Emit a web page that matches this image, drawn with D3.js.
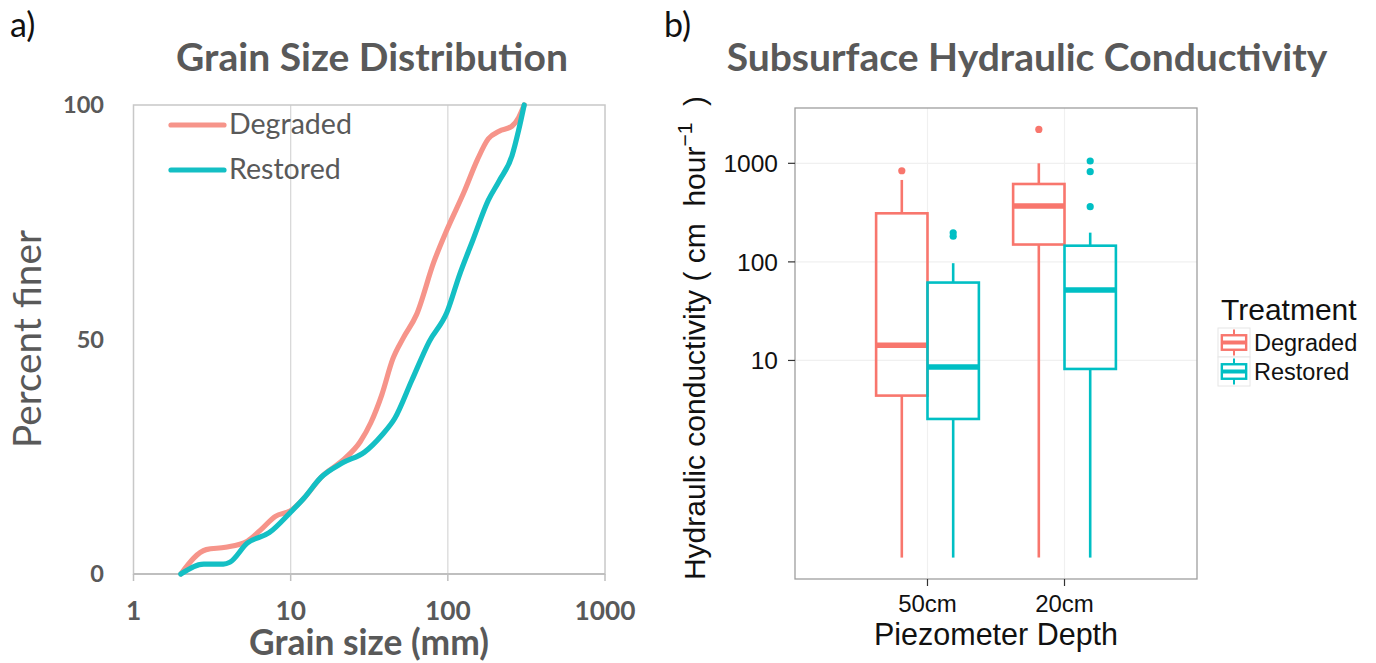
<!DOCTYPE html>
<html><head><meta charset="utf-8">
<script src="https://cdn.jsdelivr.net/npm/d3@7"></script>
<style>body{margin:0;background:#fff}svg{display:block}</style>
</head><body>
<svg id="c" width="1376" height="663"></svg>
<script>
// ---------- Panel a data: grain size distribution ----------
const grainSizeDegraded = [2,2.9,3.85,5.3,6.4,8.0,10,12.1,15.6,21.4,27.7,32.4,38,44.6,52.2,63.2,81.6,98.7,127,154,181,212,256,282,306];
const pctDegraded      = [0,5.2,5.7,7.0,9.3,12.3,13.5,16.1,20.6,24.2,28.2,32.3,38.2,45.8,50.4,55.3,66.6,73.4,81.5,88.3,92.8,94.4,95.5,97.3,100];
const grainSizeRestored = [2,2.8,3.73,4.1,5.3,7.3,10,12.1,15.6,21.4,29.5,38,46,59,76,98.7,119,144,181,212,256,282,306];
const pctRestored      = [0,2.1,2.1,2.5,6.6,8.8,13.2,16.1,20.6,23.7,26.0,29.6,33.2,41.3,49.5,55.8,63.9,71.1,79.7,83.8,89.2,94.6,100];
const grainTicks = [1,10,100,1000];
const pctTicks = [0,50,100];
const seriesNames = ["Degraded","Restored"];

// ---------- Panel b data: hydraulic conductivity boxplots ----------
const depths = ["50cm","20cm"];
const treatments = ["Degraded","Restored"];
// [depth][treatment]
const whiskerLow  = [[0.1,0.1],[0.1,0.1]];
const q1          = [[4.4,2.55],[150,8.2]];
const medians     = [[14.3,8.6],[369,52]];
const q3          = [[311,61.7],[617,146]];
const whiskerHigh = [[678,97],[1000,198]];
const outliers    = [[[841],[197,182]],[[2208],[1055,822,363]]];
const condTicks = [10,100,1000];

const svg = d3.select("#c");
const XL = "Lato, 'Open Sans', sans-serif";
const GG = "'Liberation Sans', Arial, sans-serif";
const grey = "#595959";
const colA = {Degraded:"#F6948A", Restored:"#14BFC4"};
const colB = {Degraded:"#F8766D", Restored:"#00BFC4"};

function fit(sel, w){
  const fs = parseFloat(sel.attr("font-size"));
  const m = sel.node().getComputedTextLength();
  const nf = fs*w/m;
  sel.attr("font-size", nf);
  return nf;
}

// ================= Panel a =================
const A = {l:133.5, r:605, t:105, b:574};
const xa = d3.scaleLog().domain([1,1000]).range([A.l, A.r]);
const ya = d3.scaleLinear().domain([0,100]).range([A.b, A.t]);

const ga = svg.append("g");
ga.selectAll("line.grid").data(grainTicks.slice(1,-1)).join("line")
  .attr("x1", d=>xa(d)).attr("x2", d=>xa(d)).attr("y1", A.t).attr("y2", A.b)
  .attr("stroke","#D9D9D9").attr("stroke-width",1.3);
ga.append("rect").attr("x",A.l).attr("y",A.t).attr("width",A.r-A.l).attr("height",A.b-A.t)
  .attr("fill","none").attr("stroke","#C8C8C8").attr("stroke-width",1.5);
ga.append("line").attr("x1",A.l).attr("x2",A.r).attr("y1",A.b).attr("y2",A.b)
  .attr("stroke","#BFBFBF").attr("stroke-width",1.8);
ga.selectAll("line.tk").data(grainTicks).join("line")
  .attr("x1", d=>xa(d)).attr("x2", d=>xa(d)).attr("y1", A.b).attr("y2", A.b+7)
  .attr("stroke","#BFBFBF").attr("stroke-width",1.5);
const xl = ga.selectAll("text.xt").data(grainTicks).join("text")
  .attr("x", d=>xa(d)).attr("y", 620).attr("text-anchor","middle")
  .attr("font-family",XL).attr("font-weight","bold").attr("font-size",26).attr("fill",grey)
  .text(d=>d);
{ const big = xl.filter(d=>d===1000); const fs = fit(big, 61); xl.attr("font-size", fs); }
const yl = ga.selectAll("text.yt").data(pctTicks).join("text")
  .attr("x", 104).attr("y", d=>ya(d)).attr("dy","0.35em").attr("text-anchor","end")
  .attr("font-family",XL).attr("font-weight","bold").attr("font-size",24).attr("fill",grey)
  .text(d=>d);
{ const big = yl.filter(d=>d===100); const fs = fit(big, 41); yl.attr("font-size", fs); }

const lineA = d3.line().x(d=>xa(d[0])).y(d=>ya(d[1])).curve(d3.curveMonotoneX);
const seriesA = [
  {name:"Degraded", pts:d3.zip(grainSizeDegraded, pctDegraded)},
  {name:"Restored", pts:d3.zip(grainSizeRestored, pctRestored)}
];
ga.selectAll("path.s").data(seriesA).join("path")
  .attr("d", d=>lineA(d.pts)).attr("fill","none")
  .attr("stroke", d=>colA[d.name]).attr("stroke-width",5.2)
  .attr("stroke-linecap","round").attr("stroke-linejoin","round");

const legA = ga.selectAll("g.leg").data(seriesNames).join("g")
  .attr("transform",(d,i)=>`translate(0,${125+i*45})`);
legA.append("line").attr("x1",171).attr("x2",224).attr("y1",0).attr("y2",0)
  .attr("stroke",d=>colA[d]).attr("stroke-width",5.2).attr("stroke-linecap","round");
const legAT = legA.append("text").attr("x",229).attr("y",9)
  .attr("font-family",XL).attr("font-size",26).attr("fill",grey).text(d=>d);
{ const fs = fit(legAT.filter(d=>d==="Degraded"), 123); legAT.attr("font-size", fs); }

fit(ga.append("text").attr("x",372).attr("y",71).attr("text-anchor","middle")
  .attr("font-family",XL).attr("font-weight","bold").attr("font-size",32).attr("fill",grey)
  .text("Grain Size Distribution"), 392);
fit(ga.append("text").attr("x",369).attr("y",655).attr("text-anchor","middle")
  .attr("font-family",XL).attr("font-weight","bold").attr("font-size",28).attr("fill",grey)
  .text("Grain size (mm)"), 240);
fit(ga.append("text").attr("transform","translate(41,339) rotate(-90)").attr("text-anchor","middle")
  .attr("font-family",XL).attr("font-size",34).attr("fill",grey)
  .text("Percent finer"), 218);
svg.append("text").attr("x",10).attr("y",37)
  .attr("font-family",XL).attr("font-size",34).attr("fill","#111").text("a)");

// ================= Panel b =================
const B = {l:795, r:1197, t:108, b:579};
const lo = Math.log10(d3.min(whiskerLow.flat()));
const hi = Math.log10(d3.max(outliers.flat(2)));
const pad = (hi-lo)*0.05;
const yb = d3.scaleLog().domain([10**(lo-pad), 10**(hi+pad)]).range([B.b, B.t]);
const xb = d3.scalePoint().domain(depths).range([B.l, B.r]).padding(0.967);
const dodge = d3.scaleBand().domain(treatments).range([-0.375*xb.step(), 0.375*xb.step()]);
const bw = dodge.bandwidth();

const gb = svg.append("g");
gb.append("rect").attr("x",B.l).attr("y",B.t).attr("width",B.r-B.l).attr("height",B.b-B.t)
  .attr("fill","#fff");
gb.selectAll("line.hg").data(condTicks).join("line")
  .attr("x1",B.l).attr("x2",B.r).attr("y1",d=>yb(d)).attr("y2",d=>yb(d))
  .attr("stroke","#F0F0F0").attr("stroke-width",1.2);
gb.selectAll("line.vg").data(depths).join("line")
  .attr("x1",d=>xb(d)).attr("x2",d=>xb(d)).attr("y1",B.t).attr("y2",B.b)
  .attr("stroke","#F0F0F0").attr("stroke-width",1.2);

const boxes = [];
depths.forEach((dp,i)=>treatments.forEach((tr,j)=>boxes.push({
  dp, tr, lo:whiskerLow[i][j], q1:q1[i][j], med:medians[i][j], q3:q3[i][j], hi:whiskerHigh[i][j], out:outliers[i][j]
})));
const bx = d => xb(d.dp) + dodge(d.tr);
const cx = d => bx(d) + bw/2;
const gbox = gb.selectAll("g.box").data(boxes).join("g");
gbox.append("line").attr("x1",cx).attr("x2",cx).attr("y1",d=>yb(d.q3)).attr("y2",d=>yb(d.hi))
  .attr("stroke",d=>colB[d.tr]).attr("stroke-width",2.6);
gbox.append("line").attr("x1",cx).attr("x2",cx).attr("y1",d=>yb(d.q1)).attr("y2",d=>yb(d.lo))
  .attr("stroke",d=>colB[d.tr]).attr("stroke-width",2.6);
gbox.append("rect").attr("x",bx).attr("width",bw).attr("y",d=>yb(d.q3)).attr("height",d=>yb(d.q1)-yb(d.q3))
  .attr("fill","#fff").attr("fill-opacity",0).attr("stroke",d=>colB[d.tr]).attr("stroke-width",2.6);
gbox.append("line").attr("x1",bx).attr("x2",d=>bx(d)+bw).attr("y1",d=>yb(d.med)).attr("y2",d=>yb(d.med))
  .attr("stroke",d=>colB[d.tr]).attr("stroke-width",5.5);
gbox.selectAll("circle").data(d=>d.out.map(v=>({v, d}))).join("circle")
  .attr("cx",o=>cx(o.d)).attr("cy",o=>yb(o.v)).attr("r",3.6).attr("fill",o=>colB[o.d.tr]);

gb.append("rect").attr("x",B.l).attr("y",B.t).attr("width",B.r-B.l).attr("height",B.b-B.t)
  .attr("fill","none").attr("stroke","#9E9E9E").attr("stroke-width",1.3);

gb.selectAll("line.ytk").data(condTicks).join("line")
  .attr("x1",B.l-7).attr("x2",B.l).attr("y1",d=>yb(d)).attr("y2",d=>yb(d))
  .attr("stroke","#333").attr("stroke-width",1.2);
gb.selectAll("text.ytl").data(condTicks).join("text")
  .attr("x",B.l-17).attr("y",d=>yb(d)).attr("dy","0.36em").attr("text-anchor","end")
  .attr("font-family",GG).attr("font-size",24.5).attr("fill","#111").text(d=>d);
gb.selectAll("line.xtk").data(depths).join("line")
  .attr("x1",d=>xb(d)).attr("x2",d=>xb(d)).attr("y1",B.b).attr("y2",B.b+7)
  .attr("stroke","#333").attr("stroke-width",1.2);
gb.selectAll("text.xtl").data(depths).join("text")
  .attr("x",d=>xb(d)).attr("y",612).attr("text-anchor","middle")
  .attr("font-family",GG).attr("font-size",24).attr("fill","#111").text(d=>d);
gb.append("text").attr("x",(B.l+B.r)/2).attr("y",645).attr("text-anchor","middle")
  .attr("font-family",GG).attr("font-size",30.5).attr("fill","#111").text("Piezometer Depth");

const yt = gb.append("text").attr("transform","translate(705,338) rotate(-90)").attr("text-anchor","middle")
  .attr("font-family",GG).attr("font-size",30).attr("fill","#111").style("white-space","pre");
yt.append("tspan").text("Hydraulic conductivity ( cm  hour");
yt.append("tspan").attr("dy",-13).attr("font-size",21).text("\u22121");
yt.append("tspan").attr("dy",13).text("  )");

fit(svg.append("text").attr("x",1027).attr("y",71).attr("text-anchor","middle")
  .attr("font-family",XL).attr("font-weight","bold").attr("font-size",32).attr("fill",grey)
  .text("Subsurface Hydraulic Conductivity"), 601);
svg.append("text").attr("x",664).attr("y",37)
  .attr("font-family",XL).attr("font-size",34).attr("fill","#111").text("b)");

const gl = svg.append("g");
gl.append("text").attr("x",1221).attr("y",320).attr("font-family",GG).attr("font-size",30)
  .attr("fill","#111").text("Treatment");
const keyH = 29, keyW = 32, keyX = 1218, keyY = 328;
const keys = gl.selectAll("g.k").data(treatments).join("g")
  .attr("transform",(d,i)=>`translate(${keyX},${keyY+i*keyH})`);
keys.append("rect").attr("width",keyW).attr("height",keyH).attr("fill","#fff").attr("stroke","#E6E6E6").attr("stroke-width",1);
keys.append("line").attr("x1",keyW/2).attr("x2",keyW/2).attr("y1",keyH*0.05).attr("y2",keyH*0.95)
  .attr("stroke",d=>colB[d]).attr("stroke-width",2);
keys.append("rect").attr("x",keyW*0.12).attr("width",keyW*0.76).attr("y",keyH*0.25).attr("height",keyH*0.5)
  .attr("fill","#fff").attr("stroke",d=>colB[d]).attr("stroke-width",2.4);
keys.append("line").attr("x1",keyW*0.12).attr("x2",keyW*0.88).attr("y1",keyH/2).attr("y2",keyH/2)
  .attr("stroke",d=>colB[d]).attr("stroke-width",4);
keys.append("text").attr("x",keyW+4).attr("y",keyH/2).attr("dy","0.36em")
  .attr("font-family",GG).attr("font-size",23.5).attr("fill","#111").text(d=>d);
</script>
</body></html>
